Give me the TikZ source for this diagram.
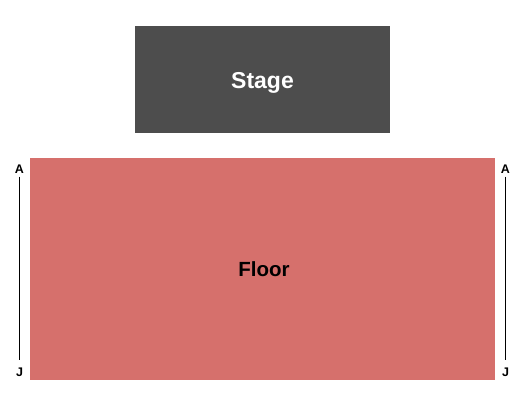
\documentclass[tikz,border=0pt]{standalone}
\usepackage{fontspec}
\setmainfont{Liberation Sans}
\usetikzlibrary{positioning}

\definecolor{stagegray}{HTML}{4D4D4D}
\definecolor{floorred}{HTML}{D6706C}

\begin{document}
\begin{tikzpicture}[x=1pt, y=-1pt,
  block/.style={inner sep=0pt, outer sep=0pt, anchor=base},
  rowlabel/.style={font=\bfseries\fontsize{12.5}{13}\selectfont, inner sep=0pt, anchor=base}]

% Page size
\useasboundingbox (0,0) rectangle (525,400);

% Row line positions
\def\leftx{19.5}
\def\rightx{505.5}

% --- Stage ---
\fill[stagegray] (135,26) rectangle (390,132.5);
\node[block, text=white, font=\bfseries\fontsize{23}{25}\selectfont] (stage) at (262.5,88.3) {Stage};

% --- Floor ---
\fill[floorred] (30,157.5) rectangle (495,380);
\node[block, font=\bfseries\fontsize{20.5}{22}\selectfont] (floor) at (264,276.5) {Floor};

% --- Row labels ---
\node[rowlabel] (lA) at (\leftx,173) {A};
\node[rowlabel] (lJ) at (\leftx,376) {J};
\node[rowlabel] (rA) at (\rightx,173) {A};
\node[rowlabel] (rJ) at (\rightx,376) {J};

\draw[line width=1pt] ([yshift=-3.5pt]lA.south) -- ([yshift=7pt]lJ.north);
\draw[line width=1pt] ([yshift=-3.5pt]rA.south) -- ([yshift=7pt]rJ.north);

\end{tikzpicture}
\end{document}
